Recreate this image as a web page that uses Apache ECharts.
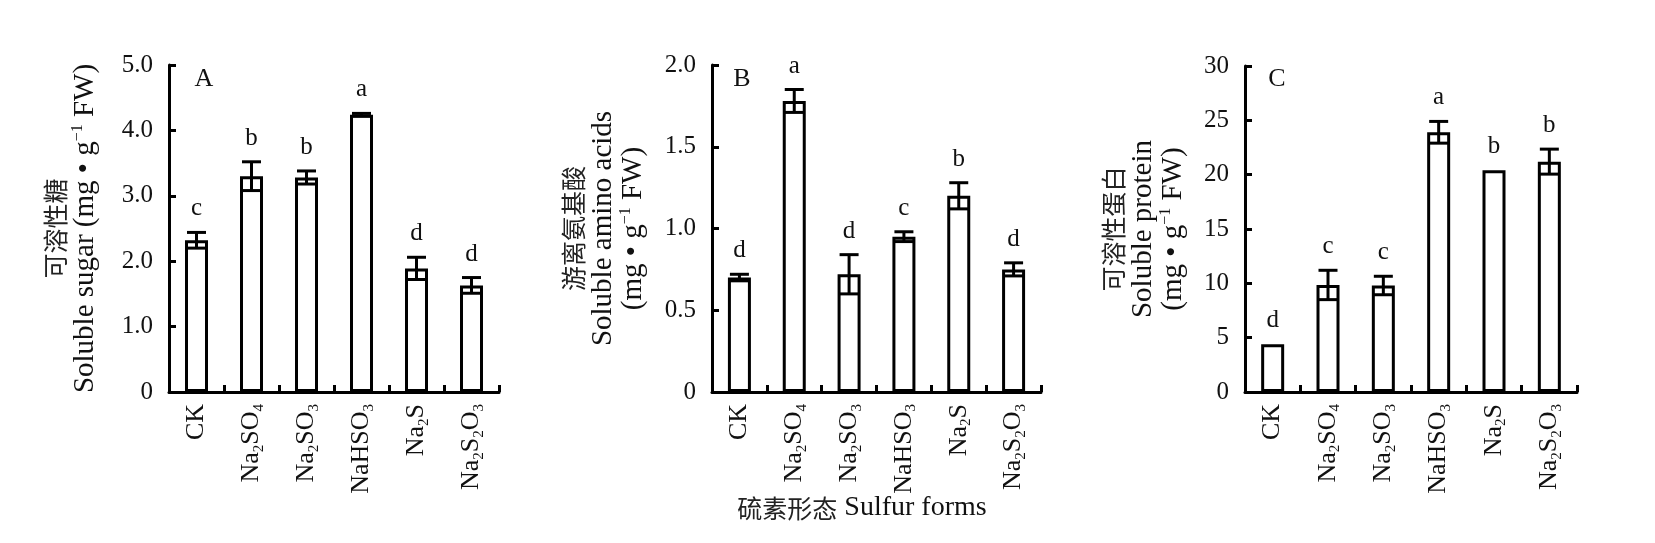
<!DOCTYPE html>
<html><head><meta charset="utf-8">
<script src="https://cdn.jsdelivr.net/npm/echarts@6/dist/echarts.min.js"></script>
<style>html,body{margin:0;padding:0;background:#fff}#c{width:1655px;height:543px}</style>
</head><body><div id="c"></div>
<script>
// ---- data ----
const categories = ['CK', 'Na2SO4', 'Na2SO3', 'NaHSO3', 'Na2S', 'Na2S2O3'];

const sugarMean = [2.32, 3.30, 3.28, 4.24, 1.89, 1.63];
const sugarErr = [0.12, 0.22, 0.10, 0.02, 0.17, 0.12];
const sugarLetters = ['c', 'b', 'b', 'a', 'd', 'd'];

const aminoMean = [0.70, 1.78, 0.72, 0.95, 1.20, 0.75];
const aminoErr = [0.02, 0.07, 0.12, 0.03, 0.08, 0.04];
const aminoLetters = ['d', 'a', 'd', 'c', 'b', 'd'];

const proteinMean = [4.4, 9.85, 9.8, 23.9, 20.4, 21.2];
const proteinErr = [0, 1.35, 0.85, 1.0, 0, 1.15];
const proteinLetters = ['d', 'c', 'c', 'a', 'b', 'b'];

const panelLabels = ['A', 'B', 'C'];
const yNames = [
  '{cn|可溶性糖}\nSoluble sugar (mg • g{sup|−1} FW)',
  '{cn|游离氨基酸}\nSoluble amino acids\n(mg • g{sup|−1} FW)',
  '{cn|可溶性蛋白}\nSoluble protein\n(mg • g{sup|−1} FW)'
];
const yMax = [5, 2, 30];
const yInterval = [1, 0.5, 5];
const xTitle = '硫素形态 Sulfur forms';

// ---- layout / style ----
const FONT = "'Liberation Serif', 'Times New Roman', 'Noto Sans CJK SC', serif";
const CJK = "'Noto Sans CJK SC', sans-serif";
const grids = [
  {left: 169, top: 65, width: 330, height: 327},
  {left: 712, top: 65, width: 329, height: 327},
  {left: 1245, top: 66, width: 332, height: 326}
];
const nameGaps = [69, 64, 57];
const panelPos = [[204, 79], [742, 79], [1277, 79]];

const means = [sugarMean, aminoMean, proteinMean];
const errs = [sugarErr, aminoErr, proteinErr];
const letters = [sugarLetters, aminoLetters, proteinLetters];

function chemRich(s) {
  return s.replace(/([A-Za-z]+)|(\d+)/g, (m, a, d) => a ? '{n|' + a + '}' : '{s|' + d + '}');
}

const xAxes = [], yAxes = [], series = [];
for (let i = 0; i < 3; i++) {
  const intv = yInterval[i];
  xAxes.push({
    type: 'category', gridIndex: i, data: categories,
    axisLine: {lineStyle: {color: '#000', width: 3}},
    axisTick: {show: true, inside: true, length: 7, lineStyle: {color: '#000', width: 3}},
    axisLabel: {
      rotate: 90, interval: 0, margin: 12, formatter: chemRich,
      rich: {
        n: {fontSize: 26, fontFamily: FONT, color: '#111', lineHeight: 30},
        s: {fontSize: 15, fontFamily: FONT, color: '#111', verticalAlign: 'bottom', lineHeight: 30}
      }
    },
    splitLine: {show: false}
  });
  yAxes.push({
    type: 'value', gridIndex: i, min: 0, max: yMax[i], interval: intv,
    axisLine: {show: true, lineStyle: {color: '#000', width: 3}},
    axisTick: {show: true, inside: true, length: 7, lineStyle: {color: '#000', width: 3}},
    splitLine: {show: false},
    axisLabel: {
      margin: 16, fontSize: 25, fontFamily: FONT, color: '#111',
      formatter: (v) => v === 0 ? '0' : (intv >= 5 ? String(v) : v.toFixed(1))
    },
    name: yNames[i], nameLocation: 'middle', nameRotate: 90, nameGap: nameGaps[i],
    nameTextStyle: {
      fontSize: 29, lineHeight: 30, fontFamily: FONT, color: '#111', align: 'center',
      rich: {
        sup: {fontSize: 16, fontFamily: FONT, color: '#111', verticalAlign: 'top', lineHeight: 30},
        cn: {fontSize: 25, fontFamily: CJK, color: '#222', lineHeight: 30}
      }
    }
  });
  series.push({
    type: 'bar', xAxisIndex: i, yAxisIndex: i, data: means[i], barWidth: 23,
    itemStyle: {color: '#fff', borderColor: '#000', borderWidth: 3},
    z: 2
  });
  const mArr = means[i], eArr = errs[i], lArr = letters[i];
  series.push({
    type: 'custom', xAxisIndex: i, yAxisIndex: i, z: 10,
    data: mArr.map((m, j) => [j, m, eArr[j]]),
    renderItem: (params, api) => {
      const x = api.value(0), m = api.value(1), e = api.value(2);
      const top = api.coord([x, m + e]);
      const bot = api.coord([x, m - e]);
      const half = 9.5;
      const st = {stroke: '#000', lineWidth: 3};
      const children = [];
      if (e > 0) {
        children.push({type: 'line', shape: {x1: top[0], y1: top[1], x2: bot[0], y2: bot[1]}, style: st});
        children.push({type: 'line', shape: {x1: top[0] - half, y1: top[1], x2: top[0] + half, y2: top[1]}, style: st});
        children.push({type: 'line', shape: {x1: bot[0] - half, y1: bot[1], x2: bot[0] + half, y2: bot[1]}, style: st});
      }
      children.push({
        type: 'text',
        style: {
          text: lArr[params.dataIndex], x: top[0], y: top[1] - 11,
          align: 'center', verticalAlign: 'bottom',
          fontSize: 25, fontFamily: FONT, fill: '#111'
        }
      });
      return {type: 'group', children};
    }
  });
}

const graphics = panelLabels.map((t, i) => ({
  type: 'text', x: panelPos[i][0], y: panelPos[i][1],
  style: {text: t, fontSize: 26, fontFamily: FONT, fill: '#111', align: 'center', verticalAlign: 'middle'}
}));
graphics.push({
  type: 'text', x: 862, y: 508,
  style: {
    text: '{cn|硫素形态} Sulfur forms', fontSize: 28, fontFamily: FONT, fill: '#111',
    align: 'center', verticalAlign: 'middle',
    rich: {cn: {fontSize: 25, fontFamily: CJK, fill: '#222'}}
  }
});

const chart = echarts.init(document.getElementById('c'), null, {renderer: 'canvas'});
chart.setOption({
  animation: false,
  backgroundColor: '#fff',
  grid: grids,
  xAxis: xAxes,
  yAxis: yAxes,
  series: series,
  graphic: graphics
});
</script>
</body></html>
